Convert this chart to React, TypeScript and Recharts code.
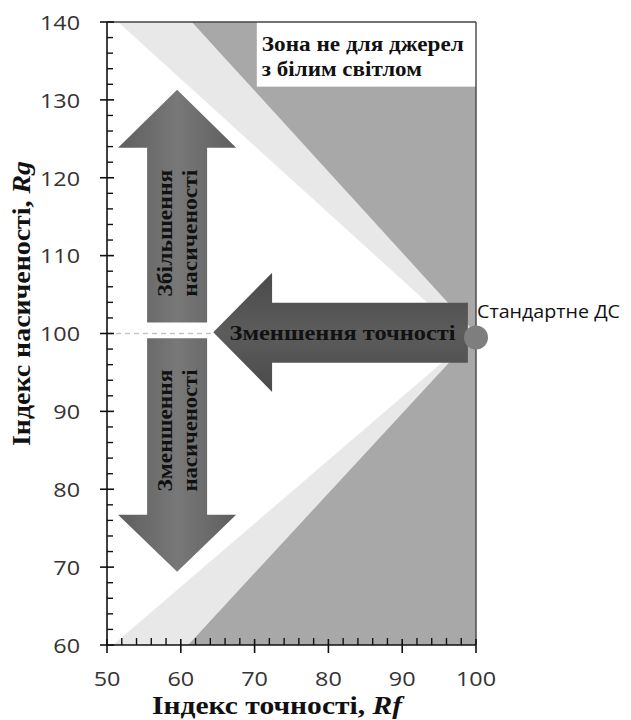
import React from "react";
import {
  Area,
  ComposedChart,
  Label,
  ReferenceArea,
  ReferenceDot,
  ReferenceLine,
  XAxis,
  YAxis,
} from "recharts";

// zone boundaries: each point is Rf with a [low, high] Rg band
const upperLight = [
  { x: 51.5, r: [140, 140] },
  { x: 98, r: [100, 140] },
  { x: 100, r: [100, 140] },
];
const upperDark = [
  { x: 61.5, r: [140, 140] },
  { x: 100, r: [100, 140] },
];
const lowerLight = [
  { x: 50.8, r: [60, 60] },
  { x: 100, r: [60, 100] },
];
const lowerDark = [
  { x: 61, r: [60, 60] },
  { x: 100, r: [60, 100] },
];

const xTicks = [
  50, 52, 54, 56, 58, 60, 62, 64, 66, 68, 70, 72, 74, 76, 78, 80, 82, 84, 86, 88, 90, 92, 94, 96,
  98, 100,
];
const yTicks = [
  60, 62, 64, 66, 68, 70, 72, 74, 76, 78, 80, 82, 84, 86, 88, 90, 92, 94, 96, 98, 100, 102, 104,
  106, 108, 110, 112, 114, 116, 118, 120, 122, 124, 126, 128, 130, 132, 134, 136, 138, 140,
];

const standard = { x: 100, y: 99.5, label: "Стандартне ДС" };
const zoneBox = { x1: 70.3, x2: 100, y1: 131.7, y2: 140, lines: ["Зона не для джерел", "з білим світлом"] };
const arrowUp = { x1: 51.5, x2: 67.5, y1: 101.4, y2: 131.3, lines: ["Збільшення", "насиченості"] };
const arrowDown = { x1: 51.5, x2: 67.5, y1: 69.4, y2: 99.4, lines: ["Зменшення", "насиченості"] };
const arrowLeft = { x1: 64.4, x2: 98.9, y1: 92.5, y2: 107.8, lines: ["Зменшення точності"] };

const SERIF = "'Liberation Serif', 'Times New Roman', serif";
const SANS = "'Open Sans', 'Noto Sans', sans-serif";

function YTick({ x, y, payload }: any) {
  const major = payload.value % 10 === 0;
  return (
    <g>
      {major ? (
        <>
          <line x1={x - 7} x2={x + 7} y1={y} y2={y} stroke="#111" strokeWidth={1.6} />
          <text
            transform={`translate(${x - 27},${y}) scale(1.17,1)`}
            textAnchor="end"
            dominantBaseline="central"
            fontFamily={SANS}
            fontSize={20}
            fill="#333"
          >
            {payload.value}
          </text>
        </>
      ) : (
        <line x1={x} x2={x + 6} y1={y} y2={y} stroke="#111" strokeWidth={1.4} />
      )}
    </g>
  );
}

function XTick({ x, y, payload }: any) {
  const major = payload.value % 10 === 0;
  return (
    <g>
      {major ? (
        <>
          <line x1={x} x2={x} y1={y - 6} y2={y + 8} stroke="#111" strokeWidth={1.6} />
          <text
            transform={`translate(${x},${y + 33}) scale(1.17,1)`}
            textAnchor="middle"
            dominantBaseline="central"
            fontFamily={SANS}
            fontSize={20}
            fill="#333"
          >
            {payload.value}
          </text>
        </>
      ) : (
        <line x1={x} x2={x} y1={y - 7} y2={y} stroke="#111" strokeWidth={1.4} />
      )}
    </g>
  );
}

function Arrow({ x, y, width: w, height: h, dir, lines, len }: any) {
  let pts: number[][];
  if (dir === "up") {
    const hh = h * 0.249;
    pts = [
      [x + w / 2, y], [x + w, y + hh], [x + w * 0.754, y + hh], [x + w * 0.754, y + h],
      [x + w * 0.246, y + h], [x + w * 0.246, y + hh], [x, y + hh],
    ];
  } else if (dir === "down") {
    const hh = h * 0.244;
    pts = [
      [x + w / 2, y + h], [x + w, y + h - hh], [x + w * 0.754, y + h - hh], [x + w * 0.754, y],
      [x + w * 0.246, y], [x + w * 0.246, y + h - hh], [x, y + h - hh],
    ];
  } else {
    const hw = w * 0.231;
    pts = [
      [x, y + h / 2], [x + hw, y], [x + hw, y + h * 0.252], [x + w, y + h * 0.252],
      [x + w, y + h * 0.756], [x + hw, y + h * 0.756], [x + hw, y + h],
    ];
  }
  const cx = x + w / 2;
  let cy = y + h / 2;
  if (dir === "up") cy = y + h * 0.249 + (h * 0.751) / 2 - 2;
  if (dir === "down") cy = y + (h * 0.756) / 2 + 4;
  const vertical = dir !== "left";
  return (
    <g>
      <polygon
        points={pts.map((p) => p.join(",")).join(" ")}
        fill={vertical ? "url(#arrowV)" : "url(#arrowH)"}
      />
      {vertical ? (
        <g transform={`rotate(-90 ${cx} ${cy})`}>
          {lines.map((t: string, i: number) => (
            <text
              key={t + i}
              x={cx}
              y={cy + (i - (lines.length - 1) / 2) * 25}
              textAnchor="middle"
              dominantBaseline="central"
              fontFamily={SERIF}
              fontWeight="bold"
              fontSize={20}
              textLength={len}
              lengthAdjust="spacingAndGlyphs"
              fill="#111"
            >
              {t}
            </text>
          ))}
        </g>
      ) : (
        <text
          x={cx + 2}
          y={cy + 1}
          textAnchor="middle"
          dominantBaseline="central"
          fontFamily={SERIF}
          fontWeight="bold"
          fontSize={21}
          textLength={len}
          lengthAdjust="spacingAndGlyphs"
          fill="#111"
        >
          {lines[0]}
        </text>
      )}
    </g>
  );
}

function ZoneBox({ x, y, width, height }: any) {
  const lens = [202, 160];
  return (
    <g>
      <rect x={x} y={y} width={width} height={height} fill="#fff" />
      {zoneBox.lines.map((t, i) => (
        <text
          key={t}
          x={x + 5}
          y={y + 29 + i * 25}
          fontFamily={SERIF}
          fontWeight="bold"
          fontSize={20}
          textLength={lens[i]}
          lengthAdjust="spacingAndGlyphs"
          fill="#111"
        >
          {t}
        </text>
      ))}
    </g>
  );
}

export default function App() {
  return (
    <div style={{ position: "absolute", left: 0, top: 0, background: "#fff" }}>
      <ComposedChart width={631} height={720} margin={{ top: 22, right: 155, bottom: 0, left: 0 }}>
        <defs>
          <linearGradient id="arrowV" x1="0" y1="0" x2="1" y2="0">
            <stop offset="0%" stopColor="#5e5e5e" />
            <stop offset="50%" stopColor="#787878" />
            <stop offset="100%" stopColor="#5e5e5e" />
          </linearGradient>
          <linearGradient id="arrowH" x1="0" y1="0" x2="0" y2="1">
            <stop offset="0%" stopColor="#4a4a4a" />
            <stop offset="50%" stopColor="#5c5c5c" />
            <stop offset="100%" stopColor="#4a4a4a" />
          </linearGradient>
        </defs>
        <XAxis
          type="number"
          dataKey="x"
          domain={[50, 100]}
          ticks={xTicks}
          interval={0}
          allowDataOverflow
          height={75}
          tickSize={0}
          tickMargin={0}
          tickLine={false}
          axisLine={{ stroke: "#111", strokeWidth: 1.6 }}
          tick={<XTick />}
        >
          <Label
            content={({ viewBox }: any) => (
              <text
                x={152}
                y={viewBox.y + 69}
                fontFamily={SERIF}
                fontWeight="bold"
                fontSize={25}
                textLength={250}
                lengthAdjust="spacingAndGlyphs"
                fill="#111"
              >
                Індекс точності, <tspan fontStyle="italic">Rf</tspan>
              </text>
            )}
          />
        </XAxis>
        <YAxis
          type="number"
          domain={[60, 140]}
          ticks={yTicks}
          interval={0}
          allowDataOverflow
          width={107}
          tickSize={0}
          tickMargin={0}
          tickLine={false}
          axisLine={{ stroke: "#111", strokeWidth: 1.6 }}
          tick={<YTick />}
        >
          <Label
            content={({ viewBox }: any) => {
              const cx = 21;
              const cy = viewBox.y + viewBox.height / 2 - 30;
              return (
                <text
                  x={cx}
                  y={cy}
                  transform={`rotate(-90 ${cx} ${cy})`}
                  textAnchor="middle"
                  dominantBaseline="central"
                  fontFamily={SERIF}
                  fontWeight="bold"
                  fontSize={26}
                  textLength={285}
                  lengthAdjust="spacingAndGlyphs"
                  fill="#111"
                >
                  Індекс насиченості, <tspan fontStyle="italic">Rg</tspan>
                </text>
              );
            }}
          />
        </YAxis>

        <Area data={upperLight} dataKey="r" type="linear" stroke="none" fill="#e8e8e8" fillOpacity={1} dot={false} activeDot={false} isAnimationActive={false} />
        <Area data={lowerLight} dataKey="r" type="linear" stroke="none" fill="#e8e8e8" fillOpacity={1} dot={false} activeDot={false} isAnimationActive={false} />
        <Area data={upperDark} dataKey="r" type="linear" stroke="none" fill="#a8a8a8" fillOpacity={1} dot={false} activeDot={false} isAnimationActive={false} />
        <Area data={lowerDark} dataKey="r" type="linear" stroke="none" fill="#a8a8a8" fillOpacity={1} dot={false} activeDot={false} isAnimationActive={false} />

        <ReferenceArea x1={zoneBox.x1} x2={zoneBox.x2} y1={zoneBox.y1} y2={zoneBox.y2} shape={(p: any) => <ZoneBox {...p} />} />

        <ReferenceLine
          segment={[{ x: 50, y: 100 }, { x: arrowLeft.x1, y: 100 }]}
          stroke="#c4c4c4"
          strokeWidth={1.5}
          strokeDasharray="5 4"
        />

        <ReferenceArea x1={arrowUp.x1} x2={arrowUp.x2} y1={arrowUp.y1} y2={arrowUp.y2} shape={(p: any) => <Arrow {...p} dir="up" lines={arrowUp.lines} len={127} />} />
        <ReferenceArea x1={arrowDown.x1} x2={arrowDown.x2} y1={arrowDown.y1} y2={arrowDown.y2} shape={(p: any) => <Arrow {...p} dir="down" lines={arrowDown.lines} len={122} />} />
        <ReferenceArea x1={arrowLeft.x1} x2={arrowLeft.x2} y1={arrowLeft.y1} y2={arrowLeft.y2} shape={(p: any) => <Arrow {...p} dir="left" lines={arrowLeft.lines} len={226} />} />

        <ReferenceLine y={140} stroke="#444" strokeWidth={1.4} />
        <ReferenceLine x={100} stroke="#444" strokeWidth={1.4} />

        <ReferenceDot
          x={standard.x}
          y={standard.y}
          r={12}
          fill="#7e7e7e"
          stroke="none"
          ifOverflow="visible"
          label={{
            content: ({ viewBox }: any) => (
              <text
                x={viewBox.x + 13}
                y={viewBox.y - 7}
                fontFamily={SANS}
                fontSize={18}
                textLength={143}
                lengthAdjust="spacingAndGlyphs"
                fill="#111"
              >
                {standard.label}
              </text>
            ),
          }}
        />
      </ComposedChart>
    </div>
  );
}
